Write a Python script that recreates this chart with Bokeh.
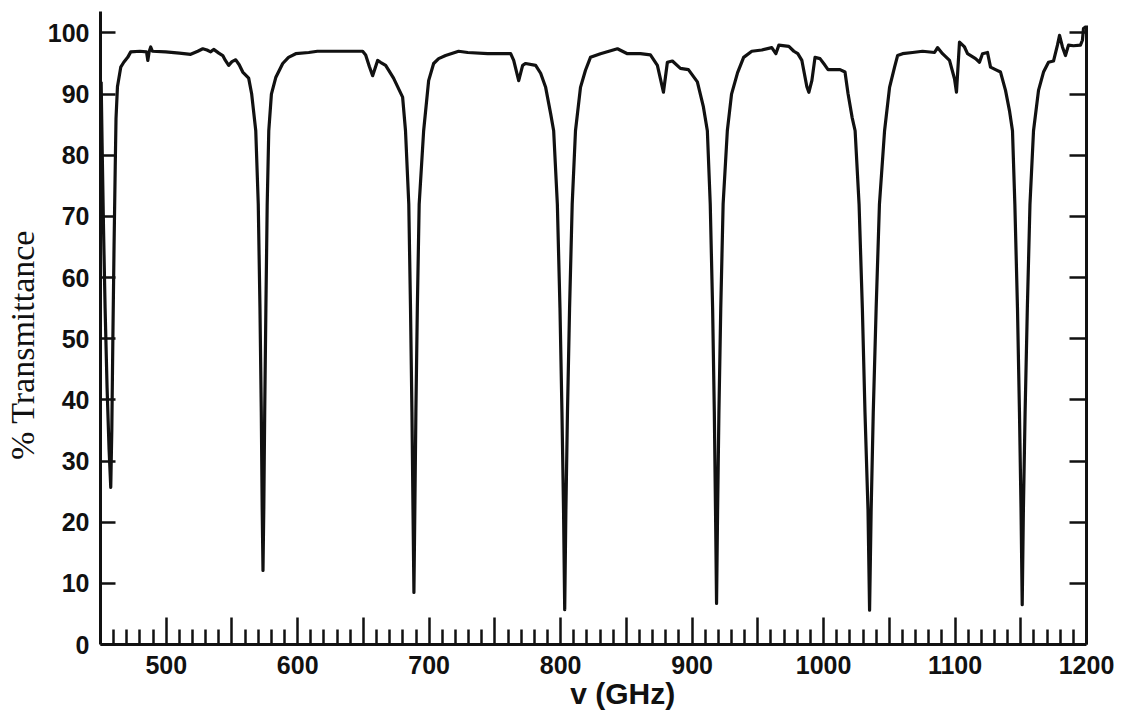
from bokeh.plotting import figure
from bokeh.models import LinearAxis, FixedTicker, Range1d, CustomJSTickFormatter
from bokeh.embed import file_html
from bokeh.resources import INLINE

# Spectrum: frequency (GHz) and % transmittance
freq = [450.5, 451.2, 452.3, 453.5, 455.0, 456.5, 457.8, 458.6, 459.4, 460.3, 461.2, 461.8,
        462.9, 465.4, 467.7, 470.7, 473.0, 480.0, 485.0, 486.0, 487.0, 488.2, 489.5, 499.6,
        510.0, 518.6, 524.0, 527.8, 531.0, 533.8, 536.1, 540.0, 543.0, 545.0, 547.5, 550.0,
        552.9, 555.5, 558.2, 562.7, 565.0, 568.1, 570.0, 571.3, 572.3, 573.0, 573.6, 574.2,
        574.9, 575.8, 576.8, 578.0, 580.0, 583.3, 588.6, 593.0, 598.5, 608.4, 615.0, 630.0,
        649.4, 651.7, 654.5, 657.0, 660.8, 663.0, 666.9, 672.9, 679.8, 682.0, 684.5, 685.8,
        686.9, 687.7, 688.4, 689.1, 689.9, 691.0, 692.4, 695.8, 699.6, 703.4, 707.2, 712.5,
        722.4, 729.3, 744.5, 762.0, 764.3, 768.1, 771.1, 773.4, 781.0, 784.8, 788.6, 792.4,
        794.7, 797.5, 799.5, 801.0, 802.2, 803.1, 804.0, 805.2, 806.8, 808.8, 811.3, 815.1,
        818.9, 822.7, 830.3, 843.2, 850.8, 860.7, 868.3, 873.6, 878.2, 881.2, 885.0, 891.1,
        897.2, 904.0, 908.6, 911.6, 913.8, 915.6, 916.9, 917.8, 918.6, 919.4, 920.4, 921.8,
        923.6, 926.8, 930.0, 934.6, 939.2, 945.4, 953.0, 960.6, 963.7, 966.0, 973.6, 977.4,
        980.4, 983.5, 987.3, 988.8, 991.1, 993.5, 997.3, 1001.1, 1003.4, 1012.5, 1016.3, 1018.6,
        1021.7, 1024.0, 1027.0, 1029.5, 1031.5, 1033.8, 1035.0, 1036.2, 1037.8, 1040.0, 1042.5, 1046.4,
        1050.2, 1054.0, 1056.3, 1060.1, 1067.7, 1075.3, 1084.4, 1086.7, 1090.5, 1095.8, 1099.6, 1101.1,
        1103.4, 1107.2, 1109.5, 1115.6, 1118.6, 1120.9, 1124.7, 1127.0, 1130.8, 1134.6, 1138.4, 1141.4,
        1143.7, 1145.5, 1147.5, 1149.0, 1150.2, 1151.1, 1152.0, 1153.3, 1155.0, 1157.0, 1159.7, 1163.5,
        1167.3, 1171.1, 1174.9, 1177.9, 1179.5, 1181.7, 1184.0, 1186.3, 1190.1, 1195.4, 1196.9, 1197.7,
        1199.5]
transmittance = [92, 82, 68, 55, 42, 32, 25.7, 35, 50, 65, 78, 86,
                 91.2, 94.4, 95.2, 96.0, 96.9, 97.0, 96.9, 95.5, 96.9, 97.7, 97.0, 96.9,
                 96.7, 96.5, 97.0, 97.4, 97.2, 96.9, 97.3, 96.7, 96.3, 95.5, 94.7, 95.3,
                 95.6, 94.8, 93.6, 92.6, 90.0, 84.0, 72, 55, 38, 22, 12.1, 22,
                 38, 55, 72, 84, 90, 92.7, 95.0, 96.0, 96.6, 96.8, 97.0, 97.0,
                 97.0, 96.4, 94.5, 93.0, 95.5, 95.2, 94.7, 92.6, 89.5, 84, 72, 55,
                 38, 22, 8.5, 22, 38, 55, 72, 84, 92.2, 95.0, 95.8, 96.3,
                 97.0, 96.8, 96.6, 96.6, 95.5, 92.2, 94.7, 95.0, 94.7, 93.4, 91.1, 86.8,
                 84, 72, 55, 38, 22, 5.7, 22, 38, 55, 72, 84, 91.1,
                 93.9, 96.0, 96.6, 97.4, 96.6, 96.6, 96.4, 94.7, 90.3, 95.2, 95.4, 94.2,
                 94.0, 92.0, 87.9, 84, 72, 55, 38, 22, 6.7, 22, 38, 55,
                 72, 84, 90, 93.5, 96.0, 97.0, 97.2, 97.6, 96.6, 98.0, 97.8, 97.0,
                 96.6, 95.5, 91.2, 90.3, 92.2, 96.0, 95.8, 94.7, 94.0, 94.0, 93.6, 90.1,
                 86.2, 84, 72, 55, 38, 22, 5.6, 22, 38, 55, 72, 84,
                 91.1, 94.4, 96.3, 96.6, 96.8, 97.0, 96.8, 97.6, 96.6, 95.5, 92.5, 90.3,
                 98.5, 97.7, 96.6, 95.8, 95.2, 96.6, 96.8, 94.4, 94.0, 93.6, 90.6, 87.3,
                 84, 72, 55, 38, 22, 6.5, 22, 38, 55, 72, 84, 90.6,
                 93.6, 95.2, 95.4, 98.0, 99.6, 97.7, 96.3, 98.0, 97.9, 98.0, 98.8, 100.7,
                 101.0]

x_major_ticks = [500, 550, 600, 650, 700, 750, 800, 850, 900, 950, 1000, 1050, 1100, 1150, 1200]
x_minor_ticks = [460, 470, 480, 490, 510, 520, 530, 540, 560, 570, 580, 590, 610, 620, 630, 640,
                 660, 670, 680, 690, 710, 720, 730, 740, 760, 770, 780, 790, 810, 820, 830, 840,
                 860, 870, 880, 890, 910, 920, 930, 940, 960, 970, 980, 990, 1010, 1020, 1030, 1040,
                 1060, 1070, 1080, 1090, 1110, 1120, 1130, 1140, 1160, 1170, 1180, 1190]
y_ticks = [0, 10, 20, 30, 40, 50, 60, 70, 80, 90, 100]
y_right_ticks = [10, 20, 30, 40, 50, 60, 70, 80, 90, 100]

NB = "\u00a0"
x_title = "v (GHz)"
y_title = "% Transmittance"

INK = "#111111"

p = figure(width=1122, height=713, x_range=Range1d(450, 1200), y_range=Range1d(0, 103.5),
           output_backend="svg", toolbar_location=None,
           min_border_left=100, min_border_right=36, min_border_top=11, min_border_bottom=69)
p.outline_line_color = None
p.xgrid.visible = False
p.ygrid.visible = False
p.background_fill_color = "white"
p.border_fill_color = "white"

xa = p.xaxis[0]
xa.ticker = FixedTicker(ticks=x_major_ticks, minor_ticks=x_minor_ticks)
xa.formatter = CustomJSTickFormatter(code="return (Math.round(tick) % 100 === 0) ? String(Math.round(tick)) : '';")
xa.axis_line_width = 3
xa.axis_line_color = INK
xa.major_tick_in = 27
xa.major_tick_out = 0
xa.minor_tick_in = 15
xa.minor_tick_out = 0
xa.major_tick_line_width = 2.5
xa.minor_tick_line_width = 2.5
xa.major_tick_line_color = INK
xa.minor_tick_line_color = INK
xa.major_label_text_font = "Liberation Sans"
xa.major_label_text_font_style = "bold"
xa.major_label_text_font_size = "25px"
xa.major_label_text_color = INK
xa.major_label_standoff = 11
xa.axis_label = NB * 7 + x_title
xa.axis_label_text_font = "Liberation Sans"
xa.axis_label_text_font_style = "bold"
xa.axis_label_text_font_size = "30px"
xa.axis_label_text_color = INK
xa.axis_label_standoff = 0

ya = p.yaxis[0]
ya.ticker = FixedTicker(ticks=y_ticks, minor_ticks=[])
ya.axis_line_width = 3
ya.axis_line_color = INK
ya.major_tick_in = 15
ya.major_tick_out = 0
ya.major_tick_line_width = 2.5
ya.major_tick_line_color = INK
ya.minor_tick_line_color = None
ya.major_label_text_font = "Liberation Sans"
ya.major_label_text_font_style = "bold"
ya.major_label_text_font_size = "25px"
ya.major_label_text_color = INK
ya.major_label_standoff = 11
ya.axis_label = y_title + NB * 4
ya.axis_label_text_font = "Liberation Serif"
ya.axis_label_text_font_style = "normal"
ya.axis_label_text_font_size = "34px"
ya.axis_label_text_color = INK
ya.axis_label_standoff = 4

ra = LinearAxis(ticker=FixedTicker(ticks=y_right_ticks, minor_ticks=[]), bounds=(0, 101.2))
ra.axis_line_width = 3
ra.axis_line_color = INK
ra.major_tick_in = 17
ra.major_tick_out = 0
ra.major_tick_line_width = 2.5
ra.major_tick_line_color = INK
ra.minor_tick_line_color = None
ra.major_label_text_color = None
ra.major_label_text_font_size = "1px"
ra.major_label_standoff = 0
p.add_layout(ra, "right")

p.line(freq, transmittance, line_width=3.2, line_color=INK, line_join="round")

open("out.html", "w").write(file_html(p, INLINE))
